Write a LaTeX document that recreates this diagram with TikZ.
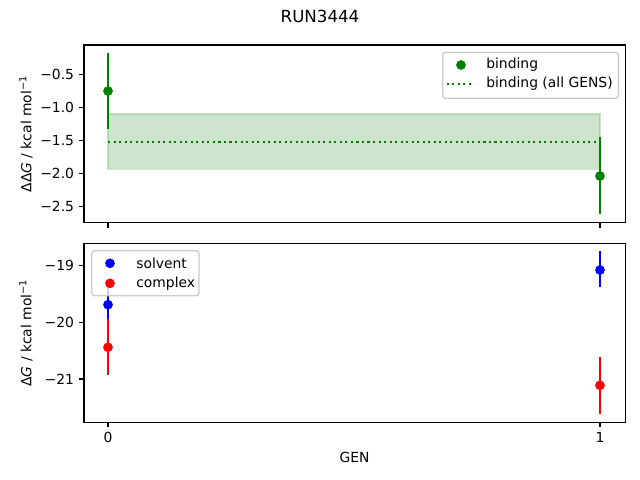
\documentclass[tikz,border=0pt]{standalone}
\usepackage{fontspec}
\setmainfont{DejaVu Sans}
\definecolor{mgreen}{HTML}{008000}
\definecolor{mblue}{HTML}{0000FF}
\definecolor{mred}{HTML}{FF0000}
\definecolor{legedge}{gray}{0.8}
\begin{document}
\begin{tikzpicture}[x=0.72pt,y=-0.72pt,
  axisline/.style={line width=0.8pt},
  tickmark/.style={line width=0.8pt},
  ticklbl/.style={font=\fontsize{10}{12}\selectfont, inner sep=0pt},
  lbl/.style={font=\fontsize{10}{12}\selectfont, inner sep=0pt},
  ebar/.style={line width=1.5pt},
  dot/.style={circle, inner sep=0pt, minimum size=7pt},
  legbox/.style={draw=legedge, line width=1pt, fill=white, fill opacity=0.8, draw opacity=1, rounded corners=2pt},
]
\useasboundingbox (0,0) rectangle (640,480);
\fill[white] (0,0) rectangle (640,480);

% title
\node[font=\fontsize{12}{14}\selectfont, inner sep=0pt] (title) at (320,16) {RUN3444};

% ================= top panel =================
% band and mean line
\fill[mgreen, opacity=0.2] (108,114) rectangle (600,169.3);
\draw[mgreen, opacity=0.2, line width=1pt] (108,114) rectangle (600,169.3);
\draw[mgreen, line width=1.5pt, dash pattern=on 1.5pt off 2.475pt] (108,142) -- (600,142);
% error bars
\coordinate (b0t) at (108,53.3); \coordinate (b0b) at (108,128.7);
\coordinate (b1t) at (600,137); \coordinate (b1b) at (600,214.3);
\draw[ebar, mgreen] (b0t) -- (b0b);
\draw[ebar, mgreen] (b1t) -- (b1b);
\node[dot, fill=mgreen] (bind0) at (108,91) {};
\node[dot, fill=mgreen] (bind1) at (600,176) {};
% axes frame
\draw[axisline] (84,45) rectangle (625.3,222.7);
% y ticks
\foreach \yy/\t in {74.3/−0.5, 107.4/−1.0, 140.5/−1.5, 173.6/−2.0, 206.7/−2.5}{
  \draw[tickmark] (84,\yy) -- (79.1,\yy);
  \node[ticklbl, anchor=east] at (74.3,\yy) {\t};
}
% x ticks (no labels)
\foreach \xx in {108,600}{
  \draw[tickmark] (\xx,222.7) -- (\xx,227.6);
}
\node[lbl, rotate=90] (ylab1) at (26,134) {ΔΔ\textit{G} / kcal mol\textsuperscript{−1}};
% legend top
\path[legbox] (442.7,52.3) rectangle (618.3,98.3);
\node[dot, fill=mgreen] (legbind) at (461,65) {};
\coordinate (lgl) at (446.7,84); \coordinate (lgr) at (474.3,84);
\draw[mgreen, line width=1.5pt, dash pattern=on 1.5pt off 2.475pt] (lgl) -- (lgr);
\node[lbl, anchor=west] (legt1) at (486,65) {binding};
\node[lbl, anchor=west] (legt2) at (486,84) {binding (all GENS)};

% ================= bottom panel =================
\coordinate (s0t) at (108,286); \coordinate (s0b) at (108,319.3);
\coordinate (c0t) at (108,319.3); \coordinate (c0b) at (108,375);
\coordinate (s1t) at (600,251); \coordinate (s1b) at (600,287.3);
\coordinate (c1t) at (600,357.3); \coordinate (c1b) at (600,413.7);
\draw[ebar, mblue] (s0t) -- (s0b);
\node[dot, fill=mblue] (solv0) at (108,304.7) {};
\draw[ebar, mblue] (s1t) -- (s1b);
\node[dot, fill=mblue] (solv1) at (600,270) {};
\draw[ebar, mred] (c0t) -- (c0b);
\node[dot, fill=mred] (comp0) at (108,347.3) {};
\draw[ebar, mred] (c1t) -- (c1b);
\node[dot, fill=mred] (comp1) at (600,385.3) {};
% frame
\draw[axisline] (84,243.3) rectangle (625.3,422.3);
\foreach \yy/\t in {265.7/−19, 322.4/−20, 379.0/−21}{
  \draw[tickmark] (84,\yy) -- (79.1,\yy);
  \node[ticklbl, anchor=east] at (74.3,\yy) {\t};
}
\foreach \xx/\t in {108/0, 600/1}{
  \draw[tickmark] (\xx,422.3) -- (\xx,427.2);
  \node[ticklbl, anchor=north] at (\xx,432) {\t};
}
\node[lbl, anchor=north] (xlab) at (354.6,451.7) {GEN};
\node[lbl, rotate=90] (ylab2) at (26,333) {Δ\textit{G} / kcal mol\textsuperscript{−1}};
% legend bottom
\path[legbox] (91.7,250.7) rectangle (199,295.7);
\node[dot, fill=mblue] (legsolv) at (110,263.3) {};
\node[dot, fill=mred] (legcomp) at (110,283.3) {};
\node[lbl, anchor=west] (legt3) at (136,263.3) {solvent};
\node[lbl, anchor=west] (legt4) at (136,283.3) {complex};
\end{tikzpicture}
\end{document}
